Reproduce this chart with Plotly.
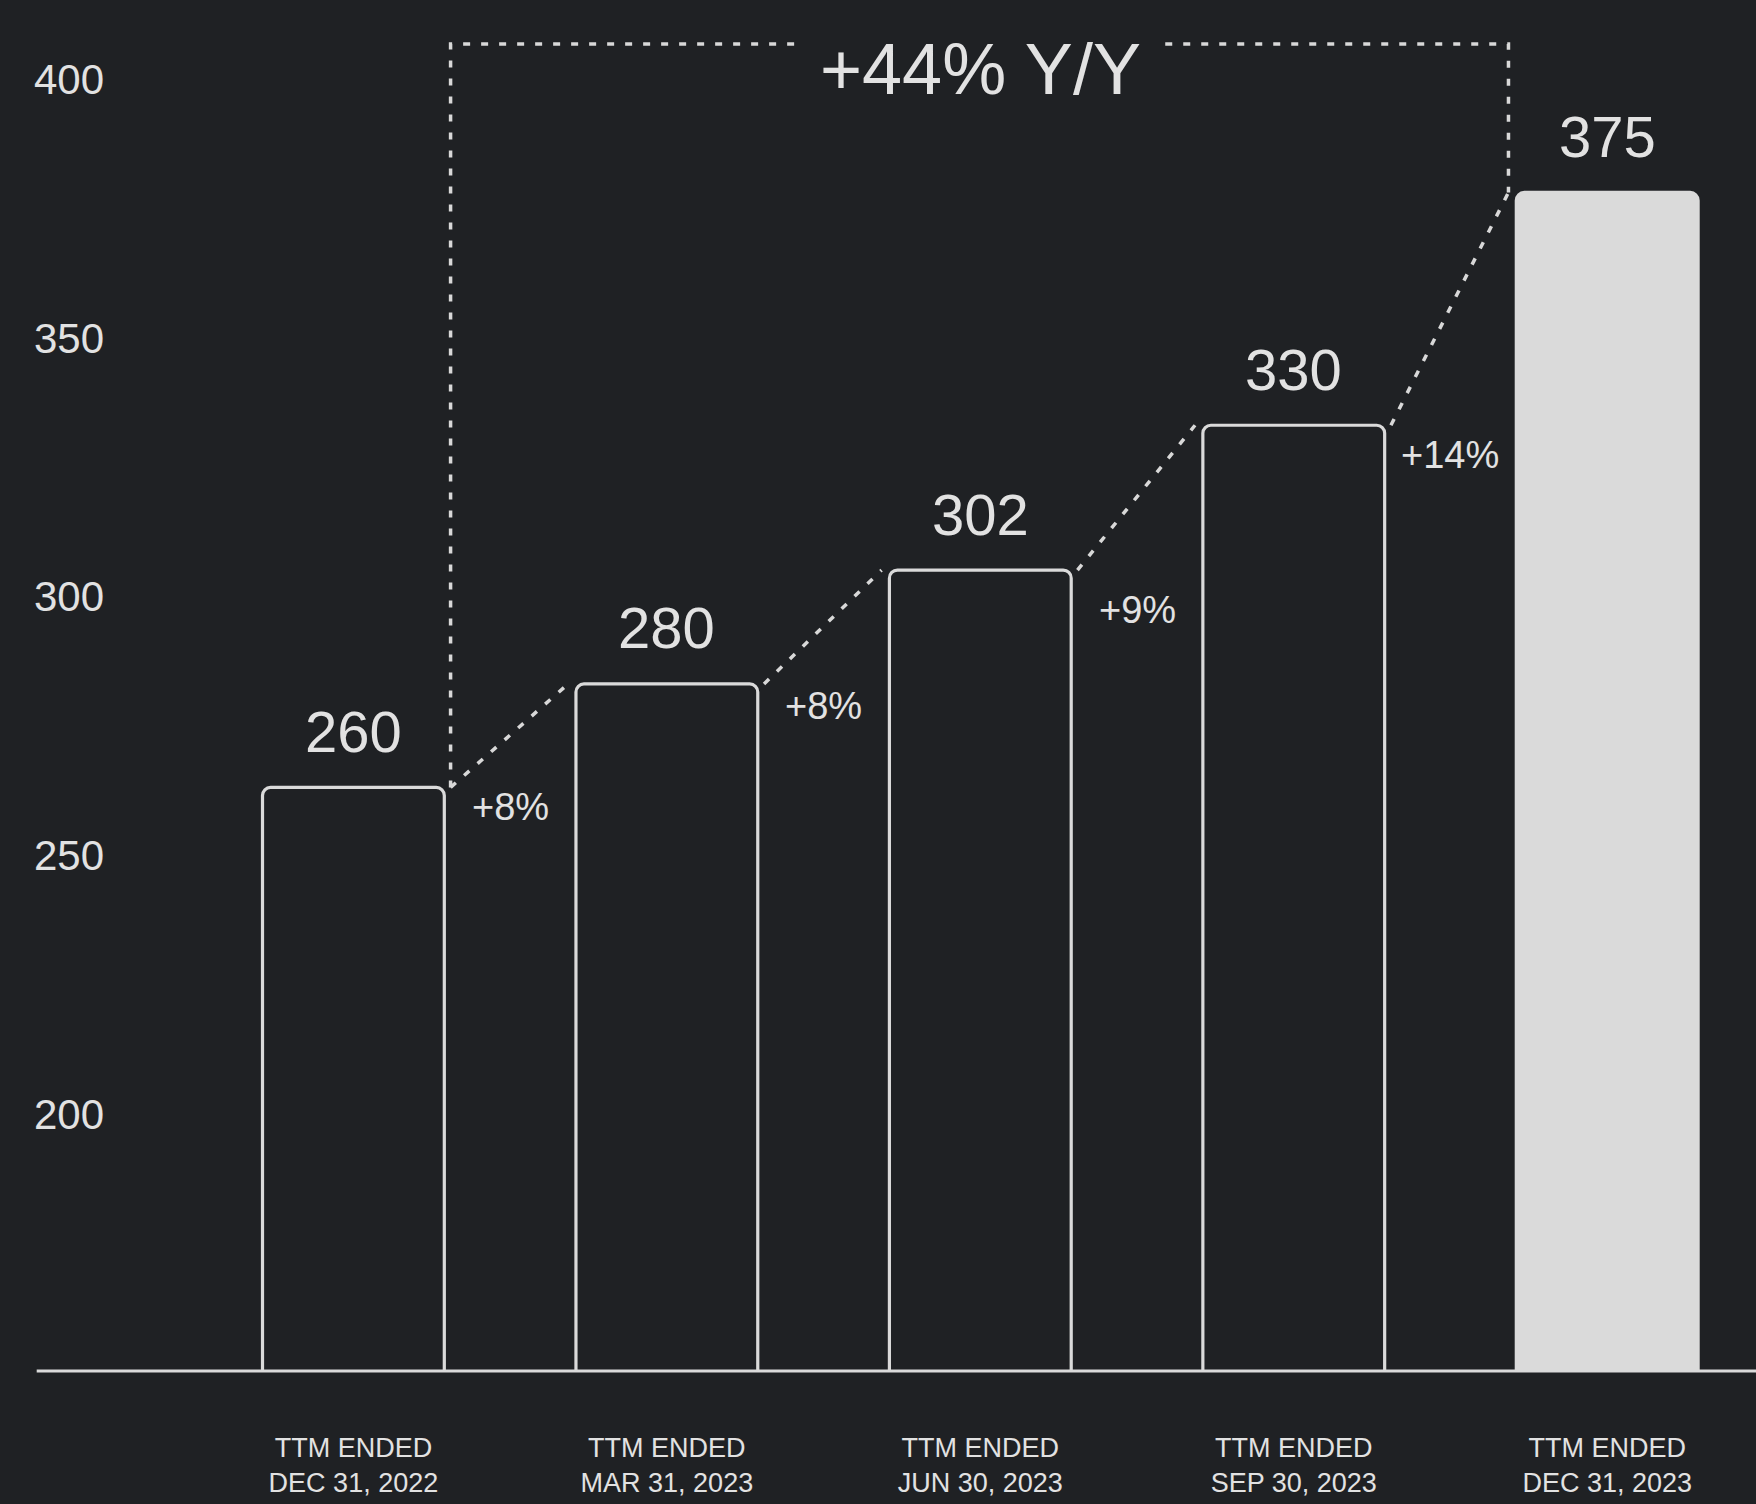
import plotly.graph_objects as go

# ---- data ----
categories = [
    "TTM ENDED<br>DEC 31, 2022",
    "TTM ENDED<br>MAR 31, 2023",
    "TTM ENDED<br>JUN 30, 2023",
    "TTM ENDED<br>SEP 30, 2023",
    "TTM ENDED<br>DEC 31, 2023",
]
values = [260, 280, 302, 330, 375]
growth_labels = ["+8%", "+8%", "+9%", "+14%"]
total_growth_label = "+44% Y/Y"
y_ticks = [200, 250, 300, 350, 400]

# ---- styles / layout constants ----
BG = "#1f2124"
FG = "#dadada"
TEXT = "#e2e2e2"
FONT = "Liberation Sans"
Y_RANGE = [147.2, 412.2]
X_RANGE = [-1.1275, 4.4747]
BAR_W = 0.58
OFF_START = 0.31
OFF_END = 0.315
BRACKET_Y = 403.7
GAP_HALF = 0.59
PCT_YSHIFT = [-20, -22, -40, -30]
DASH = "7px,11px"

xs = list(range(len(values)))

fig = go.Figure()
fig.add_trace(go.Bar(
    x=xs, y=values, width=BAR_W,
    marker=dict(color=[BG] * (len(values) - 1) + [FG],
                line=dict(color=FG, width=3.2), cornerradius=8),
    hoverinfo="skip",
))

line_style = dict(color="#d8d8d8", width=3.5, dash=DASH)
# connectors between consecutive bars
for i in range(len(values) - 1):
    fig.add_trace(go.Scatter(
        x=[xs[i] + OFF_START, xs[i + 1] - OFF_END],
        y=[values[i], values[i + 1]],
        mode="lines", line=line_style, hoverinfo="skip",
    ))

# Y/Y bracket
first, last = 0, len(values) - 1
mid = (xs[first] + xs[last]) / 2
fig.add_trace(go.Scatter(
    x=[xs[first] + OFF_START, xs[first] + OFF_START, mid - GAP_HALF],
    y=[values[first], BRACKET_Y, BRACKET_Y],
    mode="lines", line=line_style, hoverinfo="skip",
))
fig.add_trace(go.Scatter(
    x=[mid + GAP_HALF, xs[last] - OFF_END, xs[last] - OFF_END],
    y=[BRACKET_Y, BRACKET_Y, values[last]],
    mode="lines", line=line_style, hoverinfo="skip",
))

annotations = []
for i, v in enumerate(values):
    annotations.append(dict(
        x=xs[i], y=v, xref="x", yref="y", text=str(v), showarrow=False,
        yshift=56, yanchor="middle", xanchor="center",
        font=dict(family=FONT, size=58, color=TEXT),
    ))
for i, lab in enumerate(growth_labels):
    annotations.append(dict(
        x=xs[i] + 0.5, y=values[i], xref="x", yref="y", text=lab, showarrow=False,
        yshift=PCT_YSHIFT[i], yanchor="middle", xanchor="center",
        font=dict(family=FONT, size=38, color=TEXT),
    ))
annotations.append(dict(
    x=mid, y=BRACKET_Y, xref="x", yref="y", text=total_growth_label, showarrow=False,
    yshift=-25, yanchor="middle", xanchor="center",
    font=dict(family=FONT, size=72, color=TEXT),
))

fig.update_layout(
    width=1756, height=1504,
    margin=dict(l=0, r=0, t=0, b=133),
    paper_bgcolor=BG, plot_bgcolor=BG,
    showlegend=False,
    annotations=annotations,
    shapes=[dict(type="line", xref="paper", yref="paper", x0=0.0209, x1=1, y0=0, y1=0,
                 line=dict(color=FG, width=3), layer="above")],
    xaxis=dict(range=X_RANGE, tickvals=xs, ticktext=categories, showgrid=False,
               zeroline=False, showline=False, ticks="", ticklabelstandoff=58,
               tickfont=dict(family=FONT, size=27, color=TEXT), fixedrange=True),
    yaxis=dict(range=Y_RANGE, tickvals=y_ticks, showgrid=False, zeroline=False,
               showline=False, ticks="", ticklabelposition="inside",
               ticklabelstandoff=31, ticklabelshift=16,
               tickfont=dict(family=FONT, size=42, color=TEXT), fixedrange=True),
)

fig.write_html("out.html")
